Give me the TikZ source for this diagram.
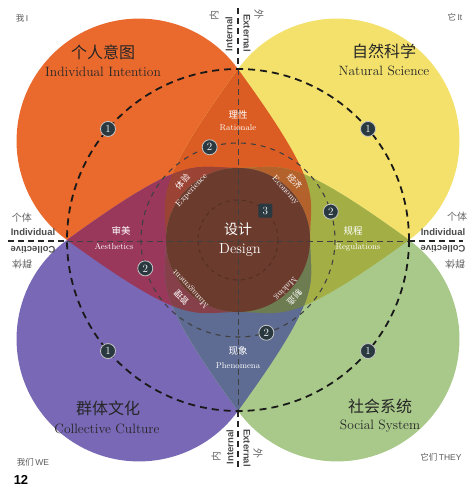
\documentclass[tikz,border=0pt]{standalone}
\usepackage{fontspec}
\newfontfamily\cjk{Noto Sans CJK SC}
\newfontfamily\lab{Liberation Sans}
\usetikzlibrary{calc}
\definecolor{cO}{HTML}{EA692D}
\definecolor{cY}{HTML}{F3E16C}
\definecolor{cP}{HTML}{7868B5}
\definecolor{cG}{HTML}{A9C98B}
\definecolor{cRat}{HTML}{DC5D24}
\definecolor{cAes}{HTML}{99385A}
\definecolor{cReg}{HTML}{A3AF45}
\definecolor{cPhe}{HTML}{5E6C93}
\definecolor{cExp}{HTML}{9B4334}
\definecolor{cEco}{HTML}{B3622C}
\definecolor{cMan}{HTML}{86404A}
\definecolor{cMak}{HTML}{6E7C52}
\definecolor{cDes}{HTML}{6B3B2E}
\definecolor{dotc}{HTML}{2A3940}
\def\petalO{(-171,0) arc[start angle=126, end angle=324, radius=122.4] .. controls (88.2,-49.6) and (72,-45) .. (72,0) arc[start angle=0, end angle=90, radius=72] .. controls (-45,72) and (-49.6,88.2) .. (-171,0) -- cycle}
\tikzset{
  ctitle/.style={font=\fontsize{16}{16}\cjk, text=black!85, inner sep=0pt},
  etitle/.style={font=\fontsize{13.5}{14}\selectfont, text=black!85, inner sep=0pt},
  ilab/.style={font=\fontsize{8.5}{10}\selectfont, text=white, inner sep=0pt, align=center},
  iclab/.style={font=\fontsize{9.5}{10}\cjk, text=white, inner sep=0pt},
  rlab/.style={font=\fontsize{8.5}{11.5}\selectfont, text=white, inner sep=0pt, align=center},
  corner/.style={font=\fontsize{8.5}{9}\lab, text=black!65, inner sep=0pt},
  axlab/.style={font=\fontsize{9.5}{10}\lab\bfseries, text=black!70, inner sep=0pt},
  axclab/.style={font=\fontsize{10}{10}\cjk, text=black!60, inner sep=0pt},
  numdot/.style={circle, fill=dotc, draw=gray!45, line width=0.8pt, text=white, inner sep=0pt, minimum size=15pt, font=\fontsize{11}{11}\selectfont},
  numsq/.style={rectangle, rounded corners=2pt, fill=dotc, text=white, inner sep=0pt, minimum size=14pt, font=\fontsize{11}{11}\selectfont},
  bigdash/.style={draw=black!90, line width=1.8pt, dash pattern=on 7pt off 5pt},
  middash/.style={draw=black!75, line width=1.1pt, dash pattern=on 5pt off 5pt},
  smalldash/.style={draw=black, opacity=0.22, line width=0.9pt, dash pattern=on 4pt off 4pt},
  axdash/.style={draw=black!75, line width=1pt, dash pattern=on 6pt off 4pt},
  axout/.style={draw=black!85, line width=1.6pt, dash pattern=on 6pt off 4pt}
}
\begin{document}
\begin{tikzpicture}[x=1pt,y=-1pt]
\useasboundingbox (0,0) rectangle (469,487);
\fill[white] (0,0) rectangle (469,487);
\coordinate (O) at (238,240);
\begin{scope}[shift={(238,240)}]
  % single petals
  \fill[cO] \petalO;
  \fill[cY, xscale=-1] \petalO;
  \fill[cP, yscale=-1] \petalO;
  \fill[cG, scale=-1] \petalO;
  % pairwise
  \begin{scope}\clip \petalO; \fill[cRat, xscale=-1] \petalO; \end{scope}
  \begin{scope}\clip \petalO; \fill[cAes, yscale=-1] \petalO; \end{scope}
  \begin{scope}\clip[xscale=-1] \petalO; \fill[cReg, scale=-1] \petalO; \end{scope}
  \begin{scope}\clip[yscale=-1] \petalO; \fill[cPhe, scale=-1] \petalO; \end{scope}
  % triples
  \begin{scope}\clip \petalO; \clip[xscale=-1] \petalO; \fill[cExp, yscale=-1] \petalO; \end{scope}
  \begin{scope}\clip \petalO; \clip[xscale=-1] \petalO; \fill[cEco, scale=-1] \petalO; \end{scope}
  \begin{scope}\clip \petalO; \clip[yscale=-1] \petalO; \fill[cMan, scale=-1] \petalO; \end{scope}
  \begin{scope}\clip[xscale=-1] \petalO; \clip[yscale=-1] \petalO; \fill[cMak, scale=-1] \petalO; \end{scope}
  % all four
  \begin{scope}\clip \petalO; \clip[xscale=-1] \petalO; \clip[yscale=-1] \petalO; \fill[cDes, scale=-1] \petalO; \end{scope}
\end{scope}

% axes
\coordinate (vt) at (238,8);
\coordinate (vta) at (238,69);
\coordinate (vba) at (238,411);
\coordinate (vb) at (238,470);
\coordinate (hl) at (8,241);
\coordinate (hla) at (67,241);
\coordinate (hra) at (409,241);
\coordinate (hr) at (463,241);
\draw[axdash] (vta) -- (vba);
\draw[axdash] (hla) -- (hra);
\draw[axout] (vt) -- (vta);
\draw[axout] (vba) -- (vb);
\draw[axout] (hl) -- (hla);
\draw[axout] (hra) -- (hr);

% dashed circles
\draw[bigdash] (O) circle[radius=171];
\draw[middash] (O) circle[radius=97];
\draw[smalldash] (O) circle[radius=40];

% markers
\node[numdot] (m1a) at ($(O)+(220.5:171)$) {1};
\node[numdot] (m1b) at ($(O)+(319.5:171)$) {1};
\node[numdot] (m1c) at ($(O)+(139.5:171)$) {1};
\node[numdot] (m1d) at ($(O)+(40.5:171)$) {1};
\node[numdot] (m2a) at ($(O)+(253:97)$) {2};
\node[numdot] (m2b) at ($(O)+(343:97)$) {2};
\node[numdot] (m2c) at ($(O)+(163:97)$) {2};
\node[numdot] (m2d) at ($(O)+(73:97)$) {2};
\node[numsq] (m3) at ($(O)+(-47:40)$) {3};

% titles
\node[ctitle] (t1c) at (103,52) {个人意图};
\node[etitle] (t1e) at (103,72) {Individual Intention};
\node[ctitle] (t2c) at (384,51) {自然科学};
\node[etitle] (t2e) at (384,71) {Natural Science};
\node[ctitle] (t3c) at (108,408) {群体文化};
\node[etitle] (t3e) at (107,429) {Collective Culture};
\node[ctitle] (t4c) at (380,406) {社会系统};
\node[etitle] (t4e) at (380,426) {Social System};

% inner labels
\node[iclab] (l1c) at (238,115) {理性};
\node[ilab] (l1e) at (238,128) {Rationale};
\node[iclab] (l2c) at (121,231) {审美};
\node[ilab] (l2e) at (114,247) {Aesthetics};
\node[iclab] (l3c) at (353,231) {规程};
\node[ilab] (l3e) at (358,247) {Regulations};
\node[iclab] (l4c) at (238,351) {现象};
\node[ilab] (l4e) at (238,366) {Phenomena};
\node[font=\fontsize{14}{14}\cjk, text=white, inner sep=0pt] (dc) at (238,229) {设计};
\node[font=\fontsize{14.5}{15}\selectfont, text=white, inner sep=0pt] (de) at (240,250) {Design};
\node[rlab, rotate=47] (r1) at (187,186) {{\cjk 体验}\\Experience};
\node[rlab, rotate=-47] (r2) at (290,186) {{\cjk 经济}\\Economy};
\node[rlab, rotate=133] (r3) at (186,293) {{\cjk 管理}\\Management};
\node[rlab, rotate=-133] (r4) at (290,293) {{\cjk 制造}\\Making};

% corner labels
\node[corner] (cI) at (22,18) {{\cjk 我}\,I};
\node[corner] (cIt) at (455,17) {{\cjk 它}\,It};
\node[corner] (cWe) at (33,462) {{\cjk 我们}\,WE};
\node[corner] (cThey) at (441,457) {{\cjk 它们}\,THEY};
\node[font=\fontsize{13}{13}\lab\bfseries, inner sep=0pt] (pg) at (21,480) {12};

% axis labels
\node[axclab] (hl1) at (22,218) {个体};
\node[axlab] (hl2) at (33,232) {Individual};
\node[axlab, rotate=180] (hl3) at (33,250) {Collective};
\node[axclab, rotate=180] (hl4) at (22,264) {群体};
\node[axclab] (hr1) at (457,217) {个体};
\node[axlab] (hr2) at (443,232) {Individual};
\node[axlab, rotate=180] (hr3) at (443,249) {Collective};
\node[axclab, rotate=180] (hr4) at (455,264) {群体};
\node[axclab, rotate=90] (vt1) at (214,16) {内};
\node[axclab, rotate=-90] (vt2) at (259,15) {外};
\node[axlab, rotate=90] (vt3) at (229,34) {Internal};
\node[axlab, rotate=-90] (vt4) at (247,33) {External};
\node[axclab, rotate=90] (vb1) at (216,456) {内};
\node[axclab, rotate=-90] (vb2) at (258,453) {外};
\node[axlab, rotate=90] (vb3) at (230,447) {Internal};
\node[axlab, rotate=-90] (vb4) at (247,448) {External};
\end{tikzpicture}
\end{document}
